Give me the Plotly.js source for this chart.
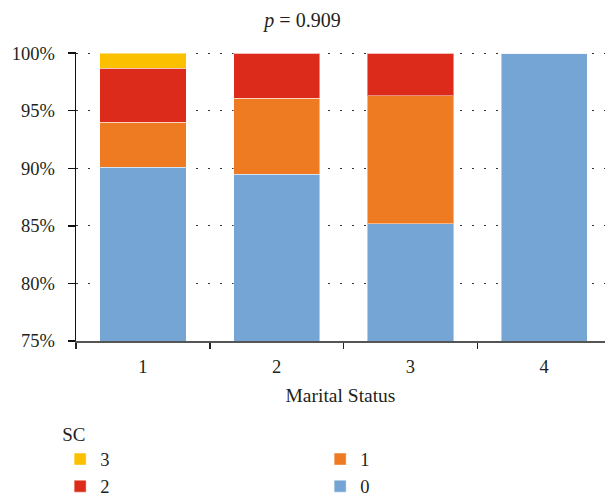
<!DOCTYPE html>
<html>
<head>
<meta charset="utf-8">
<script src="https://cdn.plot.ly/plotly-3.0.1.min.js"></script>
<style>html,body{margin:0;padding:0;background:#fff;overflow:hidden;}</style>
</head>
<body>
<div id="chart" style="width:605px;height:495px;"></div>
<script>
const categories = ["1", "2", "3", "4"];
const sc0 = [90.1, 89.5, 85.2, 100.0];
const sc1 = [3.9, 6.6, 11.1, 0];
const sc2 = [4.7, 3.9, 3.7, 0];
const sc3 = [1.3, 0, 0, 0];
const yTickVals = [75, 80, 85, 90, 95, 100];
const yTickText = ["75%", "80%", "85%", "90%", "95%", "100%"];

const FONT = "Liberation Serif, Times New Roman, serif";
const TXT = "#231f20";
const edge = {color: "rgba(255,255,255,0.45)", width: 1};

const traces = [
  {name: "0", y: sc0, color: "#74a5d5", rank: 4},
  {name: "1", y: sc1, color: "#ee7b22", rank: 2},
  {name: "2", y: sc2, color: "#dc2b1a", rank: 3},
  {name: "3", y: sc3, color: "#fbc100", rank: 1}
].map(s => ({
  type: "bar",
  x: categories,
  y: s.y,
  name: s.name,
  legendrank: s.rank,
  marker: {color: s.color, line: edge},
  hoverinfo: "skip"
}));

const layout = {
  width: 605,
  height: 495,
  barmode: "stack",
  bargap: 0.355,
  paper_bgcolor: "#fff",
  plot_bgcolor: "#fff",
  margin: {l: 75.5, r: 0, t: 51.5, b: 154.3, pad: 0, autoexpand: false},
  font: {family: FONT, color: TXT, size: 18},
  title: {
    text: "<i>p</i> = 0.909",
    font: {family: FONT, size: 20, color: TXT},
    x: 0.5, xref: "container", xanchor: "center",
    y: 0.96, yref: "container", yanchor: "middle"
  },
  xaxis: {
    type: "category",
    range: [-0.5, 3.455],
    tickson: "boundaries",
    ticks: "outside",
    ticklen: 6,
    tickwidth: 1.5,
    tickcolor: "#222",
    showline: true,
    linecolor: "#555",
    linewidth: 2,
    showgrid: false,
    ticklabelstandoff: 8,
    tickfont: {family: FONT, size: 18.5, color: TXT},
    title: {text: "Marital Status", font: {family: FONT, size: 19.5, color: TXT}, standoff: 12},
    fixedrange: true
  },
  yaxis: {
    range: [75, 100.1],
    tickvals: yTickVals,
    ticktext: yTickText,
    ticks: "outside",
    ticklen: 7,
    tickwidth: 1.5,
    tickcolor: "#111",
    showline: true,
    linecolor: "#111",
    linewidth: 1.5,
    showgrid: true,
    gridcolor: "#333",
    gridwidth: 1,
    griddash: "1.5px,10.5px",
    zeroline: false,
    ticklabelstandoff: 9,
    tickfont: {family: FONT, size: 18.5, color: TXT},
    fixedrange: true
  },
  showlegend: true,
  legend: {
    orientation: "h",
    x: -0.03, xref: "paper", xanchor: "left",
    y: -0.259, yanchor: "top",
    entrywidth: 215,
    entrywidthmode: "pixels",
    traceorder: "normal",
    title: {text: "SC", side: "top", font: {family: FONT, size: 19, color: TXT}},
    font: {family: FONT, size: 18.5, color: TXT},
    bgcolor: "rgba(0,0,0,0)",
    itemclick: false,
    itemdoubleclick: false
  }
};

Plotly.newPlot("chart", traces, layout, {displayModeBar: false, staticPlot: true});
</script>
</body>
</html>
